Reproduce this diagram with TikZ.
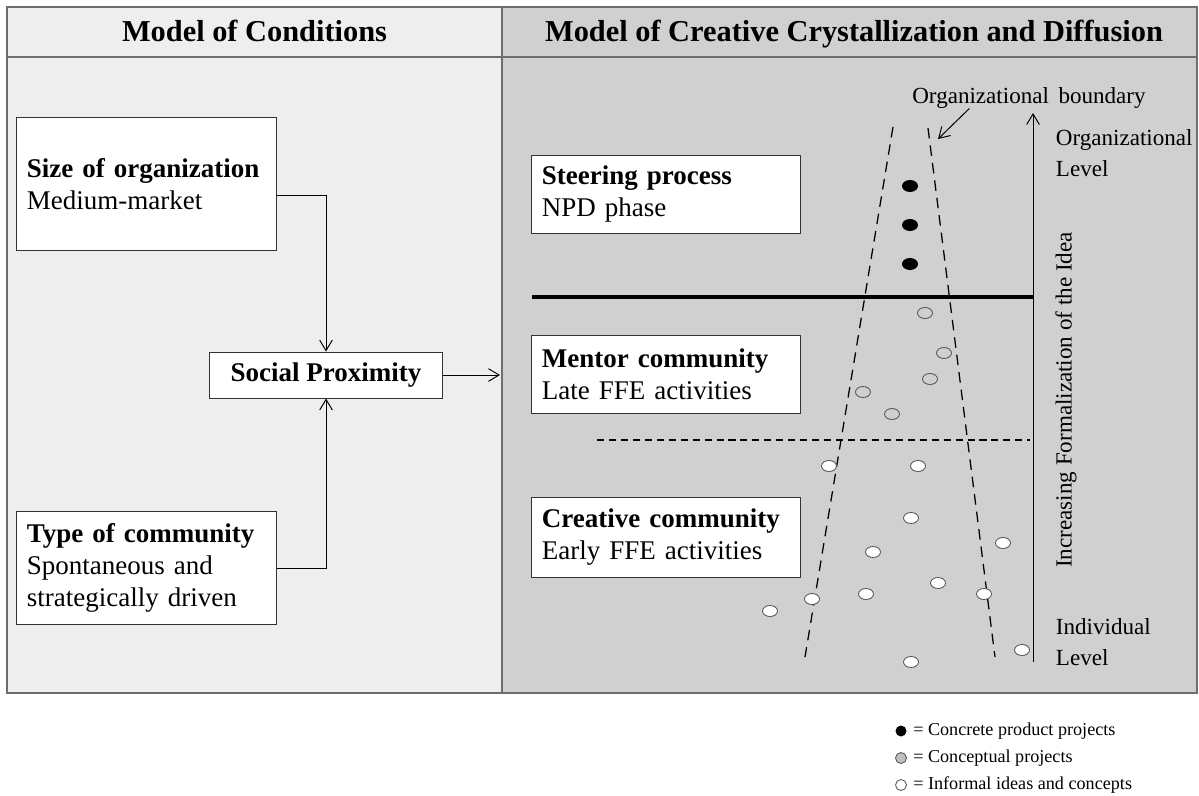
\documentclass[tikz,border=0pt]{standalone}
\usepackage{fontspec}
\setmainfont{Liberation Serif}
\usetikzlibrary{positioning,arrows.meta,calc}
\definecolor{lpanel}{HTML}{EEEEEE}
\definecolor{rpanel}{HTML}{D0D0D0}
\definecolor{framegray}{HTML}{6E6E6E}
\definecolor{dotline}{HTML}{555555}
\newcommand{\boxfont}{\fontsize{19.2}{22.8}\selectfont}
\newcommand{\midfont}{\fontsize{16.4}{21.5}\selectfont}

\begin{document}
\begin{tikzpicture}[x=0.025cm,y=-0.025cm,
  panel/.style={draw=framegray,line width=0.8pt},
  head/.style={anchor=base,font=\fontsize{21.6}{24}\selectfont\bfseries},
  lbox/.style={draw=black!80,fill=white,line width=0.7pt,align=left,inner xsep=0.25cm,inner ysep=0pt,
    minimum width=6.475cm,text width=5.975cm,font=\boxfont},
  rbox/.style={lbox,minimum width=6.7cm,text width=6.2cm},
  arr/.style={-{Straight Barb[length=7.5pt,width=9pt]},line width=0.7pt},
  funnel/.style={dash pattern=on 7.5pt off 5pt,line width=0.9pt},
  lvl/.style={anchor=west,align=left,font=\midfont},
  blackdot/.style={fill=black},
  graydot/.style={draw=dotline,fill=rpanel,line width=0.6pt},
  whitedot/.style={draw=dotline,fill=white,line width=0.6pt}]
  \useasboundingbox[fill=white] (0,0) rectangle (1199,796);
  % panels
  \draw[panel,fill=lpanel] (7,7) rectangle (502,693);
  \draw[panel,fill=rpanel] (502,7) rectangle (1197,693);
  \draw[panel] (7,57) -- (1197,57);
  \node[head] (hleft) at (254.5,41) {Model of Conditions};
  \node[head] (hright) at (854,41) {Model of Creative Crystallization and Diffusion};
  % model of conditions
  \node[lbox,minimum height=3.3cm] (size) at (146.5,184) {\textbf{Size of organization}\\Medium-market};
  \node[lbox,minimum height=2.8cm] (type) at (146.5,568) {\textbf{Type of community}\\Spontaneous and\\strategically driven};
  \node[draw=black!80,fill=white,line width=0.7pt,minimum width=5.8cm,minimum height=1.15cm,
    font=\boxfont\bfseries] (social) at (326,375) {Social Proximity};
  \coordinate (rin) at (500,375);
  \draw[arr] ($(size.east)+(0,11)$) -| (social.north);
  \draw[arr] (type.east) -| (social.south);
  \draw[arr] (social.east) -- (rin);
  % model of creative crystallization and diffusion
  \node[rbox,minimum height=1.95cm] (steer) at (666,194) {\textbf{Steering process}\\NPD phase};
  \node[rbox,minimum height=1.95cm] (mentor) at (666,374) {\textbf{Mentor community}\\Late FFE activities};
  \node[rbox,minimum height=2.0cm] (creative) at (666,537) {\textbf{Creative community}\\Early FFE activities};
  \coordinate (axbot) at (1033,662);
  \coordinate (axtop) at (1033,113);
  \draw[arr] (axbot) -- (axtop);
  \draw[line width=2.6pt] (532,297) -- (axtop |- 0,297);
  \draw[dash pattern=on 5pt off 3.5pt,line width=0.8pt] (597,440) -- (1030,440);
  \coordinate (fl1) at (893,127);
  \coordinate (fl2) at (805,657);
  \coordinate (fr1) at (928,128);
  \coordinate (fr2) at (995,657);
  \draw[funnel] (fl1) -- (fl2);
  \draw[funnel] (fr1) -- (fr2);
  \node[font=\midfont] (bndlabel) at (1029,98) {Organizational\, boundary};
  \coordinate (bnd) at (938,139);
  \draw[arr] ($(bndlabel.south west)+(62,-5)$) -- (bnd);
  \node[lvl] (orglvl) at (1051,153) {Organizational\\Level};
  \node[lvl] (indlvl) at (1051,642) {Individual\\Level};
  \node[font=\midfont,rotate=90] (formal) at (1066,400) {Increasing Formalization of the Idea};
  % ideas and projects
  \foreach \p in {(910,186),(910,225),(910,264)}
    \fill[blackdot] \p ellipse [x radius=8,y radius=6];
  \foreach \p in {(925,313),(944,353),(930,379),(863,392),(892,414)}
    \draw[graydot] \p ellipse [x radius=7.5,y radius=5.5];
  \foreach \p in {(829,466),(918,466),(911,518),(873,552),(1003,543),(938,583),(866,594),
    (812,599),(984,594),(770,611),(1022,650),(911,662)}
    \draw[whitedot] \p ellipse [x radius=7.5,y radius=5.5];
  % legend
  \fill[blackdot] (901,731) circle [radius=5.5];
  \draw[graydot,fill=black!25] (901,758) circle [radius=5.5];
  \draw[whitedot] (901,785) circle [radius=5.5];
  \node[anchor=west,font=\fontsize{12.9}{15}\selectfont,inner sep=0pt] (leg1) at (913,731) {= Concrete product projects};
  \node[anchor=west,font=\fontsize{12.9}{15}\selectfont,inner sep=0pt] (leg2) at (913,758) {= Conceptual projects};
  \node[anchor=west,font=\fontsize{12.9}{15}\selectfont,inner sep=0pt] (leg3) at (913,785) {= Informal ideas and concepts};
\end{tikzpicture}
\end{document}
